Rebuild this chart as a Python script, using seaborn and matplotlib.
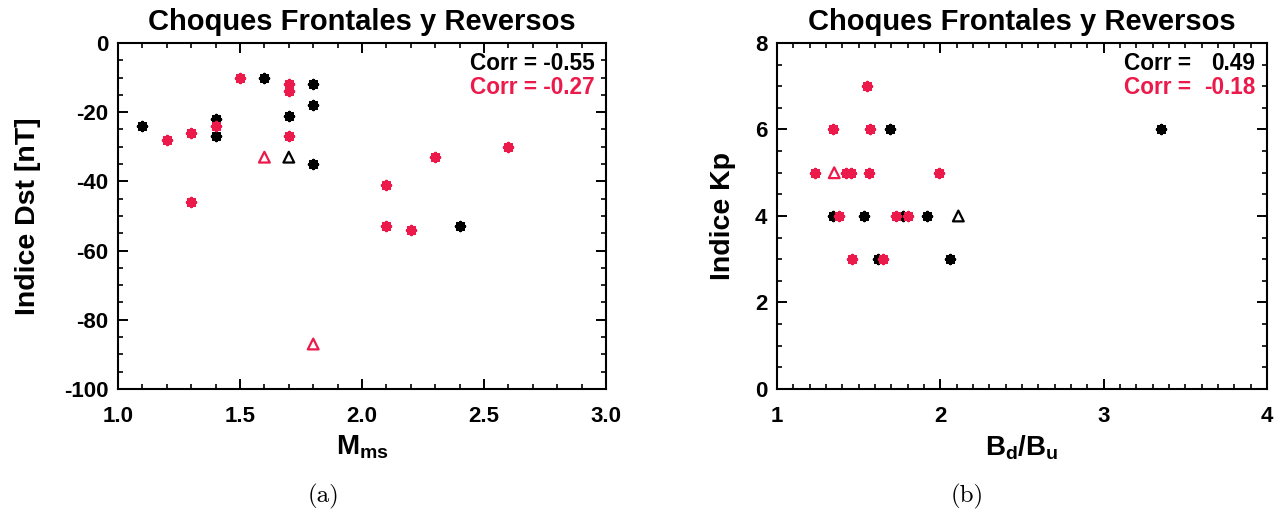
import matplotlib
matplotlib.use("Agg")
import matplotlib.pyplot as plt
from matplotlib.ticker import MultipleLocator, FormatStrFormatter
import seaborn as sns
import pandas as pd

# --- Panel (a): Dst index vs magnetosonic Mach number ---
frontal_mms = [1.1, 1.4, 1.4, 1.6, 1.7, 1.8, 1.8, 1.8, 2.4]
frontal_dst = [-24, -22, -27, -10, -21, -12, -18, -35, -53]
reverse_mms = [1.2, 1.3, 1.3, 1.4, 1.5, 1.7, 1.7, 1.7, 2.1, 2.1, 2.2, 2.3, 2.6]
reverse_dst = [-28, -26, -46, -24, -10, -12, -14, -27, -41, -53, -54, -33, -30]
frontal_tri_mms = [1.7]
frontal_tri_dst = [-33]
reverse_tri_mms = [1.6, 1.8]
reverse_tri_dst = [-33, -87]
corr_a = [-0.55, -0.27]

# --- Panel (b): Kp index vs magnetic compression ratio ---
frontal_bdbu = [1.34, 1.53, 1.69, 1.77, 1.92, 1.62, 2.06, 3.35]
frontal_kp = [4, 4, 6, 4, 4, 3, 3, 6]
reverse_bdbu = [1.55, 1.34, 1.57, 1.23, 1.42, 1.45, 1.56, 1.99, 1.38, 1.73, 1.80, 1.46, 1.65]
reverse_kp = [7, 6, 6, 5, 5, 5, 5, 5, 4, 4, 4, 3, 3]
frontal_tri_bdbu = [2.11]
frontal_tri_kp = [4]
reverse_tri_bdbu = [1.35]
reverse_tri_kp = [5]
corr_b = [0.49, -0.18]

title = "Choques Frontales y Reversos"
BLACK = "#000000"
RED = "#EC1A4B"

sns.set_theme(style="white")
plt.rcParams["font.family"] = ["Liberation Sans", "DejaVu Sans"]
plt.rcParams["font.weight"] = "bold"
plt.rcParams["text.color"] = "black"
plt.rcParams["axes.labelcolor"] = "black"
plt.rcParams["xtick.color"] = "black"
plt.rcParams["ytick.color"] = "black"
plt.rcParams["axes.unicode_minus"] = False
plt.rcParams["mathtext.fontset"] = "custom"
plt.rcParams["mathtext.bf"] = "Liberation Sans:bold"
plt.rcParams["mathtext.rm"] = "Liberation Sans:bold"
plt.rcParams["mathtext.default"] = "bf"

fig = plt.figure(figsize=(12.81, 5.19), dpi=100)
ax_a = fig.add_axes([0.0921, 0.2505, 0.381, 0.6667])
ax_b = fig.add_axes([0.6066, 0.2505, 0.3825, 0.6667])

STAR = (8, 2, 0)


def draw_group(ax, x, y, color, marker):
    df = pd.DataFrame({"x": x, "y": y})
    if marker == "^":
        sns.scatterplot(data=df, x="x", y="y", ax=ax, marker="^", s=60,
                        color=color, facecolor="none", edgecolor=color,
                        linewidth=1.6, legend=False, zorder=3)
    else:
        sns.scatterplot(data=df, x="x", y="y", ax=ax, marker=STAR, s=32,
                        color=color, linewidth=2.6, legend=False, zorder=3)


def style_axes(ax, xlim, ylim, xmaj, xmin, ymaj, ymin):
    ax.set_xlim(*xlim)
    ax.set_ylim(*ylim)
    ax.xaxis.set_major_locator(MultipleLocator(xmaj))
    ax.xaxis.set_minor_locator(MultipleLocator(xmin))
    ax.yaxis.set_major_locator(MultipleLocator(ymaj))
    ax.yaxis.set_minor_locator(MultipleLocator(ymin))
    ax.tick_params(which="both", direction="in", top=True, right=True,
                   bottom=True, left=True, color="black")
    ax.tick_params(which="major", length=7, width=1.4, labelsize=16)
    ax.tick_params(which="minor", length=3.5, width=1.2)
    ax.tick_params(axis="x", which="major", pad=12)
    ax.tick_params(axis="y", which="major", pad=7)
    for lab in ax.get_xticklabels() + ax.get_yticklabels():
        lab.set_fontweight("bold")
    for sp in ax.spines.values():
        sp.set_visible(True)
        sp.set_color("black")
        sp.set_linewidth(1.5)
    ax.set_title(title, fontsize=21, fontweight="bold", pad=9)
    ax.grid(False)


# Panel (a)
draw_group(ax_a, frontal_mms, frontal_dst, BLACK, STAR)
draw_group(ax_a, frontal_tri_mms, frontal_tri_dst, BLACK, "^")
draw_group(ax_a, reverse_mms, reverse_dst, RED, STAR)
draw_group(ax_a, reverse_tri_mms, reverse_tri_dst, RED, "^")
style_axes(ax_a, (1.0, 3.0), (-100, 0), 0.5, 0.1, 20, 5)
ax_a.xaxis.set_major_formatter(FormatStrFormatter("%.1f"))
ax_a.set_xlabel(r"$\mathbf{M_{ms}}$", fontsize=20)
ax_a.set_ylabel("Indice Dst [nT]", fontsize=20.5, fontweight="bold")
ax_a.yaxis.set_label_coords(-0.157, 0.5)
ax_a.xaxis.set_label_coords(0.5, -0.13)
ax_a.text(0.977, 0.942, f"Corr = {corr_a[0]:.2f}", transform=ax_a.transAxes,
          ha="right", va="center", fontsize=16.3, fontweight="bold", color=BLACK)
ax_a.text(0.977, 0.870, f"Corr = {corr_a[1]:.2f}", transform=ax_a.transAxes,
          ha="right", va="center", fontsize=16.3, fontweight="bold", color=RED)

# Panel (b)
draw_group(ax_b, frontal_bdbu, frontal_kp, BLACK, STAR)
draw_group(ax_b, frontal_tri_bdbu, frontal_tri_kp, BLACK, "^")
draw_group(ax_b, reverse_bdbu, reverse_kp, RED, STAR)
draw_group(ax_b, reverse_tri_bdbu, reverse_tri_kp, RED, "^")
style_axes(ax_b, (1, 4), (0, 8), 1, 0.1, 2, 0.5)
ax_b.set_xlabel(r"$\mathbf{B_d/B_u}$", fontsize=20)
ax_b.set_ylabel("Indice Kp", fontsize=20.5, fontweight="bold")
ax_b.yaxis.set_label_coords(-0.084, 0.5)
ax_b.xaxis.set_label_coords(0.5, -0.13)
for i, (val, col) in enumerate(zip(corr_b, [BLACK, RED])):
    yy = 0.942 - 0.072 * i
    ax_b.text(0.845, yy, "Corr =", transform=ax_b.transAxes, ha="right",
              va="center", fontsize=16.3, fontweight="bold", color=col)
    ax_b.text(0.976, yy, f"{val:.2f}", transform=ax_b.transAxes, ha="right",
              va="center", fontsize=16.3, fontweight="bold", color=col)

# Sub-figure captions
fig.text(323 / 1281, 1 - 496 / 519, "(a)", ha="center", va="center",
         fontsize=18, family="cmr10", fontweight="normal")
fig.text(967 / 1281, 1 - 496 / 519, "(b)", ha="center", va="center",
         fontsize=18, family="cmr10", fontweight="normal")

fig.savefig("out.png", dpi=100, facecolor="white")
